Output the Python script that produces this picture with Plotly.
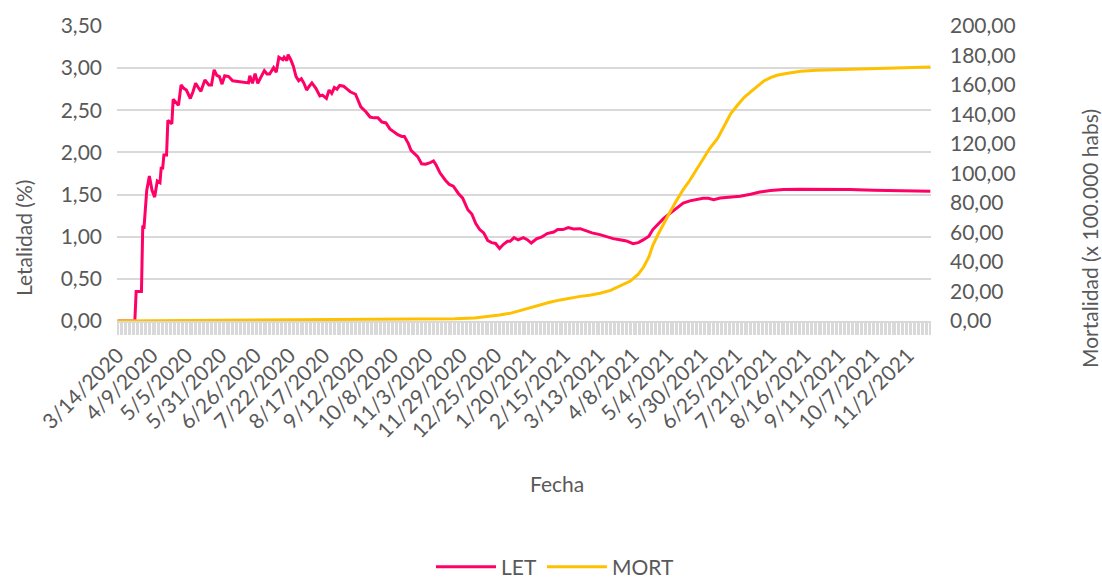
import pandas as pd
import plotly.graph_objects as go

start_date = "2020-03-14"
end_day = 615

# LET (Letalidad %) - day offset from 3/14/2020 and value
let_day = [0, 13, 14, 18, 19, 20, 22, 24, 26, 28, 30, 32, 33, 34, 35, 37, 38, 41, 42, 44,
           46, 48, 50, 52, 55, 57, 59, 61, 63, 66, 69, 71, 73, 75, 77, 79, 81, 84, 87, 99,
           100, 102, 104, 106, 109, 111, 113, 115, 118, 120, 122, 125, 126, 128, 129, 131, 133, 135, 137, 139,
           141, 143, 145, 147, 150, 153, 155, 158, 160, 162, 164, 166, 168, 171, 173, 176, 180, 182, 184, 188,
           191, 194, 197, 200, 203, 206, 209, 212, 215, 217, 220, 222, 225, 227, 230, 233, 236, 239, 241, 244,
           248, 251, 254, 258, 261, 265, 268, 271, 274, 277, 280, 283, 286, 289, 292, 295, 297, 300, 303, 307,
           310, 313, 317, 321, 325, 330, 333, 337, 341, 345, 350, 354, 359, 365, 370, 375, 380, 385, 390, 394,
           398, 402, 405, 409, 413, 417, 421, 424, 428, 433, 438, 443, 447, 451, 456, 463, 471, 479, 486, 494,
           504, 516, 534, 554, 572, 592, 615]
let_val = [0.00, 0.00, 0.35, 0.35, 1.13, 1.12, 1.55, 1.72, 1.55, 1.47, 1.66, 1.64, 1.83, 1.80, 1.97, 1.97, 2.38, 2.34, 2.63, 2.60,
           2.56, 2.80, 2.76, 2.74, 2.64, 2.72, 2.82, 2.77, 2.725, 2.86, 2.80, 2.80, 2.98, 2.915, 2.90, 2.81, 2.91, 2.90, 2.85, 2.825,
           2.91, 2.82, 2.935, 2.82, 2.90, 2.97, 2.93, 2.93, 3.005, 2.95, 3.13, 3.10, 3.13, 3.09, 3.16, 3.10, 3.02, 2.90, 2.85, 2.875,
           2.82, 2.74, 2.785, 2.825, 2.76, 2.67, 2.68, 2.64, 2.74, 2.70, 2.77, 2.75, 2.795, 2.785, 2.76, 2.72, 2.69, 2.62, 2.54, 2.48,
           2.42, 2.41, 2.41, 2.36, 2.35, 2.28, 2.24, 2.21, 2.19, 2.19, 2.105, 2.025, 1.98, 1.95, 1.865, 1.86, 1.875, 1.90, 1.85, 1.755,
           1.67, 1.62, 1.60, 1.51, 1.46, 1.32, 1.27, 1.155, 1.085, 1.045, 0.955, 0.93, 0.92, 0.86, 0.91, 0.945, 0.945, 0.99, 0.962, 0.99,
           0.965, 0.925, 0.975, 0.997, 1.037, 1.055, 1.085, 1.085, 1.108, 1.092, 1.095, 1.075, 1.045, 1.025, 0.997, 0.977, 0.965, 0.95, 0.918, 0.93,
           0.965, 1.005, 1.085, 1.155, 1.215, 1.265, 1.313, 1.35, 1.40, 1.425, 1.44, 1.455, 1.455, 1.44, 1.46, 1.47, 1.48, 1.503, 1.53, 1.547,
           1.559, 1.563, 1.563, 1.559, 1.55, 1.547, 1.539]

# MORT (Mortalidad x 100.000 habs)
mort_day = [0, 30, 60, 100, 150, 200, 240, 255, 270, 282, 289, 297, 304, 312, 320, 327, 335, 342, 350, 357,
            365, 373, 380, 388, 394, 398, 402, 405, 409, 413, 418, 423, 428, 433, 438, 443, 448, 454, 459, 464,
            469, 474, 479, 484, 489, 494, 499, 507, 517, 529, 547, 572, 597, 615]
mort_val = [0.0, 0.2, 0.4, 0.6, 0.8, 1.0, 1.3, 1.6, 2.0, 3.0, 4.0, 5.2, 7.0, 8.6, 11.0, 12.7, 14.3, 15.6, 16.7, 17.5,
            18.8, 20.8, 23.7, 27.1, 31.7, 36.6, 43.4, 51.3, 58.8, 66.0, 73.9, 81.8, 89.1, 95.4, 102.6, 110.1, 116.9, 123.7, 132.0, 140.6,
            146.3, 151.5, 155.3, 159.1, 162.7, 165.0, 166.6, 168.0, 169.3, 170.0, 170.4, 171.1, 171.8, 172.2]

t0 = pd.Timestamp(start_date)
let_dates = t0 + pd.to_timedelta(let_day, unit="D")
mort_dates = t0 + pd.to_timedelta(mort_day, unit="D")

FONT = "Lato"
TXT = "#595959"
GRID = "#d9d9d9"
FS = 21

fig = go.Figure()
fig.add_trace(go.Scatter(x=let_dates, y=let_val, name="LET", mode="lines",
                         line=dict(color="#FF0066", width=3), yaxis="y"))
fig.add_trace(go.Scatter(x=mort_dates, y=mort_val, name="MORT", mode="lines",
                         line=dict(color="#FFC000", width=3), yaxis="y2"))

DAY = 86400000
x_lo = t0 - pd.Timedelta(hours=12)
x_hi = t0 + pd.Timedelta(days=end_day, hours=12)

W, H = 1102, 578
L, R, T, B = 117, 171, 26, 257
pw, ph = W - L - R, H - T - B

def px(x):
    return (x - L) / pw

def py(y):
    return (H - B - y) / ph

fig.update_layout(
    width=W, height=H,
    margin=dict(l=L, r=R, t=T, b=B, pad=0, autoexpand=False),
    paper_bgcolor="white", plot_bgcolor="white",
    separators=",.",
    font=dict(family=FONT, size=FS, color=TXT),
    showlegend=True,
    legend=dict(orientation="h", x=px(555), y=py(567), xanchor="center", yanchor="middle",
                font=dict(family=FONT, size=FS, color=TXT), itemwidth=60,
                bgcolor="rgba(0,0,0,0)"),
    xaxis=dict(
        type="date", range=[x_lo, x_hi], automargin=False,
        tick0=start_date, dtick=26 * DAY, tickformat="%-m/%-d/%Y", tickangle=-45,
        ticks="outside", ticklen=12, tickcolor=GRID, tickwidth=1,
        minor=dict(dtick=DAY, ticks="outside", ticklen=12, tickcolor=GRID, tickwidth=1, showgrid=False),
        showline=True, linecolor=GRID, linewidth=1.5,
        showgrid=False, zeroline=False,
        tickfont=dict(family=FONT, size=FS, color=TXT),
    ),
    yaxis=dict(
        range=[0, 3.5], dtick=0.5, tick0=0, tickformat=".2f", automargin=False,
        showgrid=True, gridcolor=GRID, gridwidth=1.5,
        zeroline=False, showline=False, ticks="", ticklabelstandoff=14,
        tickfont=dict(family=FONT, size=FS, color=TXT),
    ),
    yaxis2=dict(
        range=[0, 200], dtick=20, tick0=0, tickformat=".2f", automargin=False,
        overlaying="y", side="right", showgrid=False, zeroline=False,
        showline=False, ticks="", ticklabelstandoff=18,
        tickfont=dict(family=FONT, size=FS, color=TXT),
    ),
    annotations=[
        dict(text="Letalidad (%)", xref="paper", yref="paper", x=px(23), y=py(238),
             xanchor="center", yanchor="middle", textangle=-90, showarrow=False,
             font=dict(family=FONT, size=FS, color=TXT)),
        dict(text="Mortalidad (x 100.000 habs)", xref="paper", yref="paper", x=px(1090), y=py(239),
             xanchor="center", yanchor="middle", textangle=-90, showarrow=False,
             font=dict(family=FONT, size=FS, color=TXT)),
        dict(text="Fecha", xref="paper", yref="paper", x=px(557), y=py(483),
             xanchor="center", yanchor="middle", showarrow=False,
             font=dict(family=FONT, size=FS, color=TXT)),
    ],
)

# remove the default 8px page margin so the figure fills the window exactly
fig.write_html("out.html", config={"displayModeBar": False},
               post_script="document.body.style.margin='0';document.body.style.overflow='hidden';")
